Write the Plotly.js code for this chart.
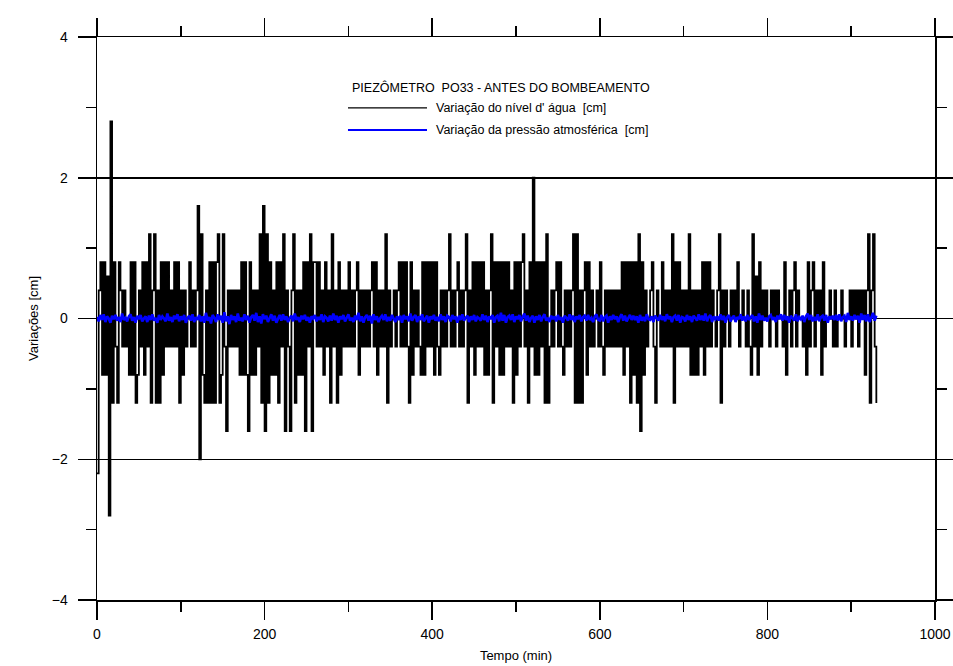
<!DOCTYPE html>
<html>
<head>
<meta charset="utf-8">
<script src="https://cdn.plot.ly/plotly-3.0.1.min.js"></script>
<style>html,body{margin:0;padding:0;background:#fff;}#chart{width:953px;height:666px;}</style>
</head>
<body>
<div id="chart"></div>
<script>
// Sampling: one reading every 2 minutes, starting at t = 0 min
const tempoInicial = 0;
const intervaloMin = 2;

// Variação do nível d'água [cm]
const nivelAgua = [
  -2.2,0.4,0.8,-0.8,0.8,-0.8,0.6,-2.8,2.8,-1.2,
  0.8,-0.4,-1.2,0.8,0.4,-0.4,0.4,-0.4,0,-0.8,
  0.8,-0.8,0.8,-1.2,-0.8,0.4,-0.4,0.8,-0.8,0.8,
  -0.4,1.2,-1.2,0.4,1.2,-1.2,0.4,-1.2,0.8,-0.8,
  0.8,-0.4,0.8,-0.4,0.4,-0.4,0.8,-0.4,0.8,-1.2,
  0.4,-0.8,0.4,-0.4,0,0.8,-0.4,0.4,-0.4,0.4,
  1.6,-2.0,1.2,-0.8,-1.2,0.4,-1.2,0.8,-1.2,0.8,
  -1.2,0.8,1.2,-1.2,-0.8,1.2,-0.4,-1.6,0.4,-0.4,
  0.4,-0.4,0.4,-0.4,0.4,-0.8,0.8,-0.8,0.8,-0.8,
  -1.6,0.8,-0.8,0.4,-0.8,0.4,-0.4,1.2,-1.2,1.6,
  -1.6,1.2,-1.2,0.8,-0.8,0.4,-0.8,0.8,-1.2,0.8,
  -0.4,1.2,-1.6,0.4,-0.4,-1.6,0.4,1.2,-1.2,0.4,
  -0.8,0.4,-0.8,0.8,-1.6,0.8,-0.4,1.2,-1.6,0.8,
  0.8,-0.4,0.8,-0.4,0.4,-0.8,0.8,-0.4,0.4,-1.2,
  1.2,-0.4,0.4,-1.2,0.8,-0.8,0.4,-0.4,0.4,-0.4,
  0.8,-0.4,0.4,-0.4,0.4,0.8,-0.8,0.4,-0.4,0.4,
  -0.4,0.4,-0.4,0.4,0.8,-0.4,0.8,-0.8,0.4,-0.4,
  0.4,-0.4,1.2,-1.2,0.4,-0.4,0,0.4,-0.4,0.4,
  0.8,-0.4,0.8,-0.4,0.8,-0.4,-1.2,0.8,-0.8,0.4,
  -0.4,0.4,-0.4,-0.8,0.8,-0.8,0.8,-0.4,0.8,-0.4,
  0.8,-0.8,0.8,-0.4,-0.8,0.4,-0.4,0.4,-0.4,0.4,
  1.2,-0.4,0.4,-0.4,0.4,0.8,-0.4,0.4,-0.4,0.4,
  1.2,-1.2,0.4,-0.4,0.8,-0.8,0.8,-0.4,0.8,-0.4,
  0.8,-0.8,0.4,-0.8,0.4,1.2,-1.2,0.8,-0.4,0.8,
  -0.8,0.8,-0.8,0.8,-0.4,0.8,-0.4,0.4,-1.2,0.8,
  -0.8,0.8,-0.4,0.8,1.2,-0.4,0.4,-1.2,0.8,-0.4,
  2.0,-0.8,0.8,-0.8,0.8,-0.4,0.8,-1.2,1.2,-1.2,
  -0.4,0.4,-0.4,0.4,0.8,-0.4,0.8,-0.4,-0.8,0.4,
  -0.4,0.4,-0.4,0.4,1.2,-1.2,1.2,-1.2,0.4,-1.2,
  0.4,0.8,-0.8,0.8,-0.4,0.4,-0.4,0,0.4,-0.4,
  0.8,-0.4,-0.8,0.4,-0.4,0.4,-0.4,0.4,-0.4,0.4,
  -0.4,0.4,-0.4,0.8,-0.8,0.8,-0.4,0.8,-1.2,0.8,
  -0.8,0.8,-1.2,1.2,-1.6,0.8,-0.8,0.4,-0.4,0,
  0.4,0.8,-0.4,-1.2,0.4,0,-0.4,0.8,-0.4,0.4,
  -0.4,0.4,-0.4,1.2,-1.2,0.8,-0.4,0.8,-0.4,0.4,
  -0.4,0.4,-0.4,1.2,-0.8,0.4,-0.8,0.4,-0.8,0.4,
  -0.4,0.8,-0.8,0.8,-0.4,0.8,-0.4,0.4,0,-0.4,
  0.4,1.2,-1.2,0.4,-0.4,0.4,0,-0.4,0.4,0,
  0.4,0,0.8,-0.4,0,0.4,0,-0.4,0.4,-0.4,
  -0.8,1.2,-0.4,0.6,-0.8,0.8,-0.4,0.4,0,0.4,
  0,-0.4,0.4,0,0.4,-0.4,0.4,0,0,-0.4,
  0.8,-0.8,0,0.4,-0.4,0.4,0.8,-0.4,0.4,0,
  0,-0.4,0,-0.8,0.8,-0.4,0.4,0.8,-0.4,0.4,
  0,0.4,-0.8,0.8,-0.4,0,0,0.4,0,-0.4,
  0.4,-0.4,0,0,0.4,0,-0.4,0,0,0.4,
  -0.4,0.4,0,0.4,-0.4,0.4,0,0.4,-0.8,0.4,
  1.2,-1.2,0.4,1.2,-0.4,-1.2
];

// Variação da pressão atmosférica [cm]
const pressaoAtm = [
  0.02,-0.04,0.05,-0.02,0.06,-0.05,0.03,0.00,-0.06,0.04,
  -0.01,0.05,-0.03,0.02,-0.05,0.07,-0.02,0.01,-0.04,0.03,
  0.06,-0.03,0.02,-0.06,0.04,-0.01,0.05,-0.04,0.00,0.03,
  -0.05,0.04,-0.02,0.06,-0.03,0.01,-0.06,0.05,-0.02,0.03,
  0.00,-0.04,0.07,-0.03,0.02,-0.05,0.04,-0.01,0.06,-0.04,
  0.03,-0.02,0.05,-0.06,0.01,0.04,-0.03,0.06,-0.05,0.02,
  -0.02,0.05,-0.04,0.03,-0.06,0.08,-0.03,0.02,-0.07,0.05,
  0.01,-0.05,0.06,-0.02,0.04,-0.06,0.09,-0.04,0.03,-0.08,
  0.05,-0.02,0.03,-0.05,0.07,-0.03,0.01,-0.04,0.06,-0.02,
  0.04,-0.06,0.02,0.05,-0.03,0.08,-0.05,0.03,-0.07,0.06,
  -0.01,0.04,-0.05,0.02,0.06,-0.03,0.04,-0.06,0.01,0.05,
  -0.03,0.06,-0.02,0.03,-0.05,0.01,0.04,-0.04,0.07,-0.02,
  0.02,-0.05,0.04,-0.01,0.05,-0.03,0.02,-0.06,0.03,0.00,
  0.05,-0.04,0.02,-0.02,0.06,-0.05,0.03,0.01,-0.04,0.04,
  -0.03,0.07,-0.02,0.04,-0.06,0.03,-0.01,0.05,-0.04,0.02,
  0.06,-0.03,0.01,-0.05,0.04,-0.02,0.08,-0.04,0.03,-0.06,
  0.02,0.05,-0.03,0.04,-0.07,0.06,-0.02,0.03,-0.05,0.01,
  0.04,-0.02,0.06,-0.04,0.02,-0.03,0.05,0.00,-0.05,0.03,
  -0.02,0.04,-0.06,0.05,-0.01,0.03,-0.04,0.07,-0.03,0.02,
  0.05,-0.05,0.03,-0.02,0.06,-0.04,0.01,0.04,-0.06,0.03,
  -0.01,0.05,-0.03,0.02,-0.04,0.06,-0.02,0.03,-0.05,0.04,
  0.02,-0.04,0.05,-0.01,0.03,-0.06,0.04,-0.02,0.06,-0.03,
  0.01,0.04,-0.05,0.03,-0.02,0.05,-0.04,0.02,0.00,-0.03,
  0.06,-0.02,0.04,-0.05,0.03,-0.01,0.05,-0.06,0.02,0.04,
  -0.04,0.08,-0.03,0.05,-0.06,0.02,0.04,-0.02,0.06,-0.05,
  0.03,-0.01,0.05,-0.04,0.02,0.07,-0.03,0.04,-0.05,0.01,
  0.04,-0.06,0.03,-0.02,0.05,-0.04,0.02,0.06,-0.03,0.01,
  -0.05,0.04,-0.01,0.03,-0.04,0.05,-0.02,0.02,-0.06,0.04,
  0.01,-0.03,0.06,-0.02,0.04,-0.05,0.03,-0.01,0.05,-0.04,
  0.02,0.04,-0.03,0.05,-0.02,0.01,-0.05,0.03,0.06,-0.02,
  -0.03,0.05,-0.04,0.02,0.04,-0.06,0.03,-0.02,0.05,-0.01,
  0.03,-0.05,0.02,0.06,-0.03,0.04,-0.04,0.01,0.05,-0.02,
  0.04,-0.02,0.03,-0.06,0.05,-0.03,0.02,-0.04,0.06,-0.01,
  -0.02,0.03,-0.05,0.04,0.01,-0.03,0.05,-0.02,0.03,-0.04,
  0.06,-0.01,0.03,-0.05,0.02,0.04,-0.03,0.05,-0.06,0.02,
  0.01,-0.04,0.05,-0.02,0.03,-0.05,0.04,0.00,-0.03,0.06,
  -0.02,0.04,-0.03,0.07,-0.04,0.02,0.05,-0.05,0.03,-0.01,
  0.03,-0.03,0.06,-0.02,0.04,-0.06,0.02,0.05,-0.04,0.01,
  0.04,-0.05,0.02,-0.01,0.06,-0.03,0.03,-0.04,0.05,-0.02,
  0.02,0.05,-0.04,0.03,-0.06,0.07,-0.02,0.04,-0.03,0.01,
  -0.04,0.03,0.05,-0.02,0.02,-0.05,0.04,-0.01,0.06,-0.03,
  0.05,-0.02,0.03,-0.06,0.04,0.01,-0.03,0.06,-0.04,0.02,
  -0.01,0.04,-0.05,0.03,0.07,-0.02,0.05,-0.04,0.02,-0.03,
  0.06,-0.04,0.02,0.04,-0.03,0.05,-0.06,0.03,-0.01,0.04,
  -0.02,0.05,-0.03,0.06,-0.04,0.02,0.04,-0.05,0.08,-0.02,
  0.03,-0.03,0.05,-0.01,0.04,-0.06,0.07,-0.02,0.05,-0.04,
  0.06,-0.05,0.03,0.08,-0.03,0.04
];

// Texts
const tituloGrafico = 'PIEZÔMETRO  PO33 - ANTES DO BOMBEAMENTO';
const nomeSerie1 = 'Variação do nível d\' água  [cm]';
const nomeSerie2 = 'Variação da pressão atmosférica  [cm]';
const tituloX = 'Tempo (min)';
const tituloY = 'Variações [cm]';

const FONT = 'Liberation Sans, Arial, sans-serif';

const traces = [
  {
    type: 'scatter', mode: 'lines', name: nomeSerie1,
    x0: tempoInicial, dx: intervaloMin, y: nivelAgua,
    line: {color: '#000000', width: 1.8, shape: 'hv'},
    showlegend: false, hoverinfo: 'skip'
  },
  {
    type: 'scatter', mode: 'lines', name: nomeSerie2,
    x0: tempoInicial, dx: intervaloMin, y: pressaoAtm,
    line: {color: '#0000ff', width: 2.6},
    showlegend: false, hoverinfo: 'skip'
  }
];

const axisCommon = {
  ticks: 'outside', ticklen: 18, tickwidth: 1.5, tickcolor: '#000',
  showline: true, linewidth: 1.5, linecolor: '#000', mirror: 'ticks',
  zeroline: false,
  tickfont: {family: FONT, size: 14, color: '#000'}
};

const layout = {
  width: 953, height: 666,
  margin: {l: 97, r: 18, t: 37, b: 66},
  paper_bgcolor: '#ffffff', plot_bgcolor: '#ffffff',
  font: {family: FONT, color: '#000'},
  showlegend: false,
  xaxis: Object.assign({}, axisCommon, {
    range: [0, 1000], tick0: 0, dtick: 200, showgrid: false,
    ticklabelstandoff: 3,
    minor: {dtick: 100, ticks: 'outside', ticklen: 10, tickwidth: 1.5, tickcolor: '#000', showgrid: false},
    title: {text: tituloX, font: {family: FONT, size: 13, color: '#000'}, standoff: 9}
  }),
  yaxis: Object.assign({}, axisCommon, {
    range: [-4, 4], tick0: 0, dtick: 2,
    showgrid: true, gridcolor: '#000', gridwidth: 1.5,
    ticklabelstandoff: 7,
    minor: {dtick: 1, ticks: 'outside', ticklen: 10, tickwidth: 1.5, tickcolor: '#000', showgrid: false},
    title: {text: tituloY, font: {family: FONT, size: 13, color: '#000'}, standoff: 10}
  }),
  shapes: [
    {type: 'line', xref: 'paper', yref: 'paper', x0: 0.2995, x1: 0.3938, y0: 0.874, y1: 0.874,
     line: {color: '#000000', width: 1.2}},
    {type: 'line', xref: 'paper', yref: 'paper', x0: 0.2995, x1: 0.3938, y0: 0.835, y1: 0.835,
     line: {color: '#0000ff', width: 2}}
  ],
  annotations: [
    {xref: 'paper', yref: 'paper', x: 0.302, y: 0.911, xanchor: 'left', yanchor: 'middle',
     text: tituloGrafico, showarrow: false, font: {family: FONT, size: 12.5, color: '#000'}},
    {xref: 'paper', yref: 'paper', x: 0.402, y: 0.874, xanchor: 'left', yanchor: 'middle',
     text: nomeSerie1, showarrow: false, font: {family: FONT, size: 12.5, color: '#000'}},
    {xref: 'paper', yref: 'paper', x: 0.402, y: 0.835, xanchor: 'left', yanchor: 'middle',
     text: nomeSerie2, showarrow: false, font: {family: FONT, size: 12.5, color: '#000'}}
  ]
};

Plotly.newPlot('chart', traces, layout, {displayModeBar: false, staticPlot: true});
</script>
</body>
</html>
